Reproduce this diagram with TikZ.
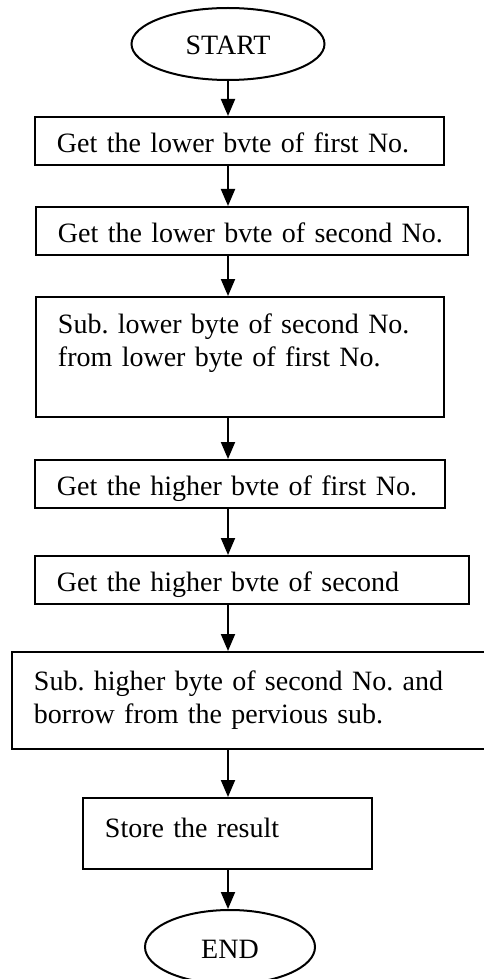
\documentclass[tikz,border=0pt]{standalone}
\usepackage{fontspec}
\setmainfont{Liberation Serif}
\usetikzlibrary{arrows.meta,shapes.geometric}
\tikzset{
  stepbox/.style={draw,rectangle,line width=0.8pt,inner xsep=8.8pt,inner ysep=0pt,align=left,text height=8.8pt,text depth=0pt},
  termnode/.style={draw,ellipse,line width=0.8pt,inner sep=0pt,text height=8.8pt,text depth=0pt},
  flow/.style={line width=0.8pt,-{Triangle[length=6.8pt,width=5.6pt]}}
}
\begin{document}
\begin{tikzpicture}[x=0.4pt,y=-0.4pt,font=\fontsize{11.2pt}{13.2pt}\selectfont\frenchspacing]
      \useasboundingbox (0,0) rectangle (483,979);
      \node[termnode,minimum width=77.2pt,minimum height=28.8pt] (start) at (228,44) {START};
      \node[stepbox,text width=146pt,minimum height=19.2pt] (b1) at (239.5,141) {Get the lower bvte of first No.};
      \node[stepbox,text width=155.2pt,minimum height=19.2pt] (b2) at (252,231) {Get the lower bvte of second No.};
      \node[stepbox,text width=145.6pt,minimum height=48pt,text depth=28pt] (b3) at (240,357) {Sub. lower byte of second No.\\from lower byte of first No.};
      \node[stepbox,text width=146.4pt,minimum height=19.2pt] (b4) at (240,484) {Get the higher bvte of first No.};
      \node[stepbox,text width=156pt,minimum height=19.2pt] (b5) at (252,580) {Get the higher bvte of second};
      \node[stepbox,text width=172.8pt,minimum height=38.8pt,text depth=17.2pt] (b6) at (250,700.5) {Sub. higher byte of second No. and\\borrow from the pervious sub.};
      \node[stepbox,text width=98pt,minimum height=28.4pt,text depth=6pt] (b7) at (227.5,833.5) {Store the result};
      \node[termnode,minimum width=68pt,minimum height=29.6pt] (end) at (230,947) {END};
      \foreach \a/\b in {start/b1,b1/b2,b2/b3,b3/b4,b4/b5,b5/b6,b6/b7,b7/end}
        \draw[flow] (\a.south -| start) -- (\b.north -| start);
\end{tikzpicture}
\end{document}
